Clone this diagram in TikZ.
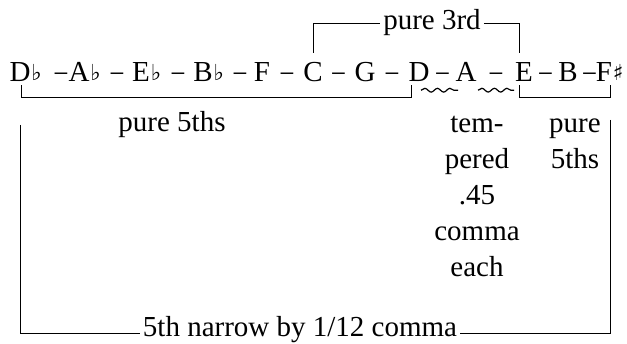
\documentclass[tikz,border=0pt]{standalone}
\usepackage{fontspec}
\usepackage{graphicx}
\setmainfont{Liberation Serif}
\newfontfamily\accfont{DejaVu Sans}
\newcommand{\mydash}{\raisebox{1.5pt}{\scalebox{0.85}[1]{–}}}
\usetikzlibrary{calc,decorations.pathmorphing}
\begin{document}
\begin{tikzpicture}[x=1pt,y=-1pt,
  every node/.style={inner sep=0pt, font=\fontsize{29}{36}\selectfont},
  note/.style={anchor=base},
  acc/.style={anchor=base west, font=\accfont\fontsize{22}{26}\selectfont, yshift=1.5pt, xshift=0.5pt},
  dashn/.style={anchor=base},
  lbl/.style={anchor=base},
  gap/.style={inner xsep=3pt},
  brk/.style={line width=0.8pt},
  wave/.style={line width=1.2pt, decorate, decoration={snake, amplitude=1.9pt, segment length=12.5pt}}]
\useasboundingbox (0,0) rectangle (627,344);

% note row
\node[note] (Db) at (20,82) {D};
\node[acc] (Dbf) at (Db.base east) {♭};
\node[dashn] (d1) at (61,82) {\mydash};
\node[note] (Ab) at (79,82) {A};
\node[acc] (Abf) at (Ab.base east) {♭};
\node[dashn] (d2) at (117,82) {\mydash};
\node[note] (Eb) at (141,82) {E};
\node[acc] (Ebf) at (Eb.base east) {♭};
\node[dashn] (d3) at (178,82) {\mydash};
\node[note] (Bb) at (203,82) {B};
\node[acc] (Bbf) at (Bb.base east) {♭};
\node[dashn] (d4) at (240,82) {\mydash};
\node[note] (F) at (262,82) {F};
\node[dashn] (d5) at (287,82) {\mydash};
\node[note] (C) at (313,82) {C};
\node[dashn] (d6) at (338.5,82) {\mydash};
\node[note] (G) at (365,82) {G};
\node[dashn] (d7) at (392,82) {\mydash};
\node[note] (D) at (419,82) {D};
\node[dashn] (d8) at (442.5,82) {\mydash};
\node[note] (A) at (466,82) {A};
\node[dashn] (d9) at (496,82) {\mydash};
\node[note] (E) at (524,82) {E};
\node[dashn] (d10) at (545.5,82) {\mydash};
\node[note] (B) at (568,82) {B};
\node[dashn] (d11) at (589.5,82) {\mydash};
\node[note] (Fs) at (604,82) {F};
\node[acc] (Fss) at (Fs.base east) {♯};

% pure third bracket
\node[lbl,gap] (p3) at (432,30) {pure 3rd};
\draw[brk] ([yshift=10pt]C.north) |- (p3.west);
\draw[brk] (p3.east) -| ([xshift=-5pt,yshift=10pt]E.north);

% lower brackets
\draw[brk] ([xshift=1pt,yshift=-3pt]Db.south) -- ++(0,12) -| ([xshift=-8pt,yshift=-3pt]D.south);
\draw[brk] ([xshift=-5pt,yshift=-3pt]E.south) -- ++(0,12) -| ([xshift=6pt,yshift=-3pt]Fs.south);

% tempered waves
\draw[wave] ([xshift=2pt,yshift=-8pt]D.south) -- ([xshift=-8pt,yshift=-8pt]A.south);
\draw[wave] ([xshift=12pt,yshift=-8pt]A.south) -- ([xshift=-10pt,yshift=-8pt]E.south);

% labels
\node[lbl] (p5) at (172,132) {pure 5ths};
\node[lbl] (t1) at (477,133) {tem-};
\node[lbl] (t2) at (477,169) {pered};
\node[lbl] (t3) at (477,205) {.45};
\node[lbl] (t4) at (477,241) {comma};
\node[lbl] (t5) at (477,277) {each};
\node[lbl] (r1) at (575,133) {pure};
\node[lbl] (r2) at (575,169) {5ths};

% outer bracket
\node[lbl,gap] (nb) at (300,337) {5th narrow by 1/12 comma};
\coordinate (lt) at (20,125);
\coordinate (lb) at (20,333);
\coordinate (rt) at (610,120);
\coordinate (rb) at (610,333);
\draw[brk] (lt) -- (lb) -- (lb -| nb.west);
\draw[brk] (rt) -- (rb) -- (rb -| nb.east);
\end{tikzpicture}
\end{document}
